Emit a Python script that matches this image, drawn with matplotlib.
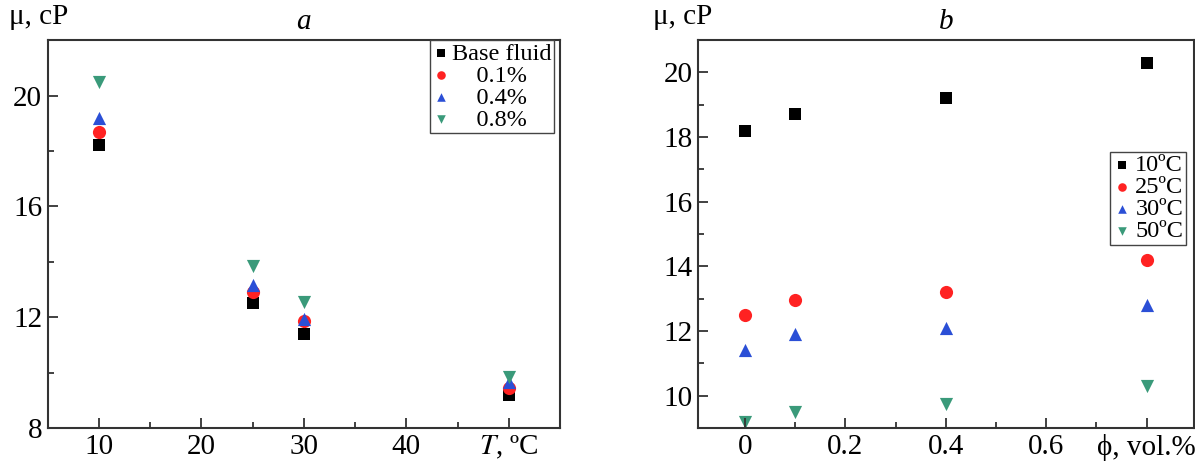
import numpy as np
import matplotlib.pyplot as plt
from matplotlib.ticker import MultipleLocator

plt.rcParams['font.family'] = 'serif'
plt.rcParams['font.serif'] = ['Liberation Serif', 'DejaVu Serif']
plt.rcParams['mathtext.fontset'] = 'stix'

# panel a: viscosity vs temperature
temps = [10, 25, 30, 50]
mu_base = [18.2, 12.5, 11.4, 9.2]
mu_01 = [18.7, 12.9, 11.85, 9.45]
mu_04 = [19.2, 13.15, 11.95, 9.65]
mu_08 = [20.5, 13.85, 12.55, 9.85]
labels_a = ['Base fluid', '    0.1%', '    0.4%', '    0.8%']
xticks_a = [10, 20, 30, 40, 50]
xticklabels_a = ['10', '20', '30', '40', '$T$, ºC']

# panel b: viscosity vs volume fraction
phi = [0, 0.1, 0.4, 0.8]
mu_10C = [18.2, 18.7, 19.2, 20.3]
mu_25C = [12.5, 12.95, 13.2, 14.2]
mu_30C = [11.4, 11.9, 12.1, 12.8]
mu_50C = [9.2, 9.5, 9.75, 10.3]
labels_b = ['10ºC', '25ºC', '30ºC', '50ºC']
xticks_b = [0, 0.2, 0.4, 0.6, 0.8]
xticklabels_b = ['0', '0.2', '0.4', '0.6', 'ϕ, vol.%']

colors = ['black', '#ff2222', '#2b4fd6', '#3a9a7a']
markers = ['s', 'o', '^', 'v']
sizes = {'s': 70, 'o': 90, '^': 90, 'v': 90}
fs = 21

fig = plt.figure(figsize=(11.95, 4.67), dpi=100)
ax1 = fig.add_axes([0.040, 0.0835, 0.4286, 0.8305])
ax2 = fig.add_axes([0.584, 0.0835, 0.415, 0.8305])

def style(ax):
    for sp in ax.spines.values():
        sp.set_linewidth(1.5)
        sp.set_color('#333333')
    ax.tick_params(which='both', direction='in', labelsize=fs, color='#333333', width=1.3)
    ax.tick_params(which='major', length=7, pad=4)
    ax.tick_params(which='minor', length=4)

for ys, c, m, lab in zip([mu_base, mu_01, mu_04, mu_08], colors, markers, labels_a):
    ax1.scatter(temps, ys, c=c, marker=m, s=sizes[m], label=lab, linewidths=0)
ax1.set_xlim(5, 55)
ax1.set_ylim(8, 22)
ax1.set_xticks(xticks_a)
ax1.set_xticklabels(xticklabels_a)
ax1.set_yticks([8, 12, 16, 20])
ax1.xaxis.set_minor_locator(MultipleLocator(5))
ax1.yaxis.set_minor_locator(MultipleLocator(2))
style(ax1)
ax1.legend(loc='upper right', bbox_to_anchor=(0.988, 1.0), fontsize=17.5, frameon=True, fancybox=False,
           edgecolor='#444444', borderpad=0.1, handletextpad=0.1, labelspacing=0.0, borderaxespad=0,
           handlelength=0.7, markerscale=0.65, framealpha=1)
ax1.set_title('a', fontsize=fs, style='italic', pad=8)
ax1.text(-0.075, 1.025, 'μ, cP', transform=ax1.transAxes, fontsize=fs, va='bottom', ha='left')

for ys, c, m, lab in zip([mu_10C, mu_25C, mu_30C, mu_50C], colors, markers, labels_b):
    ax2.scatter(phi, ys, c=c, marker=m, s=sizes[m], label=lab, linewidths=0)
ax2.set_xlim(-0.094, 0.894)
ax2.set_ylim(9, 21)
ax2.set_xticks(xticks_b)
ax2.set_xticklabels(xticklabels_b)
ax2.set_yticks([10, 12, 14, 16, 18, 20])
ax2.xaxis.set_minor_locator(MultipleLocator(0.1))
ax2.yaxis.set_minor_locator(MultipleLocator(1))
style(ax2)
ax2.legend(loc='upper right', bbox_to_anchor=(0.984, 0.712), fontsize=17.5, frameon=True, fancybox=False,
           edgecolor='#444444', borderpad=0.1, handletextpad=0.15, labelspacing=0.0,
           borderaxespad=0, handlelength=0.8, markerscale=0.65, framealpha=1)
ax2.set_title('b', fontsize=fs, style='italic', pad=8)
ax2.text(-0.09, 1.025, 'μ, cP', transform=ax2.transAxes, fontsize=fs, va='bottom', ha='left')

fig.savefig('out.png', dpi=100)
